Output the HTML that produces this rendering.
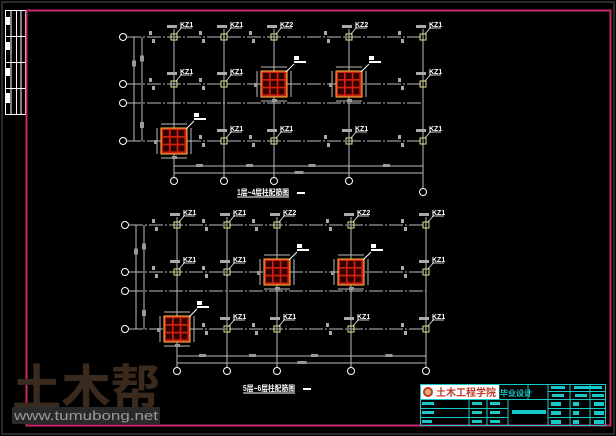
<!DOCTYPE html>
<html><head><meta charset="utf-8"><style>
html,body{margin:0;padding:0;background:#000;width:616px;height:436px;overflow:hidden}
svg{display:block}
text{font-family:"Liberation Sans","Noto Sans CJK SC",sans-serif}
</style></head><body>
<svg id="s" width="616" height="436" viewBox="0 0 616 436" xmlns="http://www.w3.org/2000/svg">
<rect x="0" y="0" width="616" height="436" fill="#000"/>
<rect x="2" y="2" width="612" height="432" fill="none" stroke="#555" stroke-width="1"/>
<!-- left margin table -->
<g stroke="#fff" stroke-width="1" fill="none">
<rect x="5.5" y="10.5" width="20" height="104"/>
<line x1="11" y1="10" x2="11" y2="114"/><line x1="16.5" y1="10" x2="16.5" y2="114"/><line x1="21" y1="10" x2="21" y2="114"/>
<line x1="5" y1="36.5" x2="26" y2="36.5"/><line x1="5" y1="62.5" x2="26" y2="62.5"/><line x1="5" y1="88.5" x2="26" y2="88.5"/>
</g>
<g fill="#fff"><rect x="6" y="17" width="4" height="8"/><rect x="6" y="42" width="4" height="8"/><rect x="6" y="68" width="4" height="8"/><rect x="6" y="93" width="4" height="10"/></g>
<!-- pink frame -->
<rect x="26.5" y="10.5" width="584" height="415" fill="none" stroke="#c8286e" stroke-width="2"/>
<g id="plans"></g>
<!-- watermark -->
<text x="12" y="406" font-size="50" font-weight="bold" fill="#3a2a1e" textLength="148" lengthAdjust="spacingAndGlyphs">土木帮</text>
<rect x="12" y="407" width="148" height="17" fill="#2a2a2a"/>
<text x="14" y="420" font-size="13" fill="#9a9a9a" textLength="144" lengthAdjust="spacingAndGlyphs" font-family="Liberation Mono">www.tumubong.net</text>
<!-- title block -->
<g stroke="#19c8c8" stroke-width="1" fill="none">
<rect x="420.5" y="384.5" width="185" height="41"/>
<line x1="499" y1="384" x2="499" y2="399"/>
<line x1="420" y1="399.5" x2="606" y2="399.5"/>
<line x1="528" y1="384" x2="528" y2="399"/>
<line x1="548" y1="384" x2="548" y2="426"/>
<line x1="590" y1="384" x2="590" y2="426"/>
<line x1="469" y1="399" x2="469" y2="426"/>
<line x1="487" y1="399" x2="487" y2="426"/>
<line x1="508" y1="399" x2="508" y2="426"/>
<line x1="420" y1="408.5" x2="508" y2="408.5"/><line x1="420" y1="417.5" x2="508" y2="417.5"/>
<line x1="570" y1="384" x2="570" y2="426"/>
<line x1="548" y1="391.5" x2="606" y2="391.5"/>
<line x1="548" y1="408.5" x2="606" y2="408.5"/><line x1="548" y1="417.5" x2="606" y2="417.5"/>
</g>
<rect x="421" y="385" width="78" height="14" fill="#fff"/>
<circle cx="428" cy="392" r="5" fill="#c0392b"/><circle cx="428" cy="392" r="3" fill="#e8b070"/>
<text x="436" y="396" font-size="10" fill="#c0392b" font-weight="bold">土木工程学院</text>
<text x="500" y="396" font-size="8" fill="#19c8c8" font-weight="bold">毕业设计</text>
<g fill="#19c8c8"><rect x="422" y="402" width="12" height="3"/><rect x="422" y="411" width="12" height="3"/><rect x="422" y="420" width="10" height="3"/>
<rect x="472" y="402" width="10" height="3"/><rect x="472" y="411" width="10" height="3"/><rect x="472" y="420" width="10" height="3"/>
<rect x="490" y="402" width="10" height="3"/><rect x="490" y="411" width="10" height="3"/><rect x="490" y="420" width="10" height="3"/>
<rect x="512" y="410" width="34" height="4"/><rect x="551" y="386" width="14" height="3"/><rect x="574" y="386" width="28" height="3"/>
<rect x="552" y="394" width="12" height="3"/><rect x="575" y="394" width="12" height="3"/><rect x="592" y="394" width="12" height="3"/>
<rect x="551" y="402" width="10" height="4"/><rect x="573" y="402" width="6" height="4"/><rect x="594" y="402" width="10" height="4"/>
<rect x="551" y="411" width="10" height="4"/><rect x="573" y="411" width="6" height="4"/><rect x="594" y="411" width="10" height="4"/>
<rect x="551" y="420" width="10" height="4"/><rect x="573" y="420" width="6" height="4"/><rect x="594" y="420" width="10" height="4"/></g>
</svg>
<script>
const NS="http://www.w3.org/2000/svg",G=document.getElementById("plans");
function el(t,a,txt){const e=document.createElementNS(NS,t);for(const k in a)e.setAttribute(k,a[k]);if(txt)e.textContent=txt;G.appendChild(e);return e;}
function plan(cols,rows,axX,circY,boxes,lbl,titleX,titleY,tlabel){
 const x0=cols[0],x1=cols[cols.length-1];
 // row lines
 rows.forEach(y=>{el("line",{x1:axX+4,y1:y,x2:x1,y2:y,stroke:"#bbb","stroke-width":1,"stroke-dasharray":"14 2 2 2"});
  el("circle",{cx:axX,cy:y,r:3.5,fill:"none",stroke:"#fff","stroke-width":1});});
 // col lines
 cols.forEach((x,i)=>{const cy=(i==cols.length-1&&circY[1])?circY[1]:circY[0];
  el("line",{x1:x,y1:rows[0]-8,x2:x,y2:cy-4,stroke:"#bbb","stroke-width":1});
  el("circle",{cx:x,cy:cy,r:3.5,fill:"none",stroke:"#fff","stroke-width":1});});
 // left dims
 el("line",{x1:axX+11,y1:rows[0],x2:axX+11,y2:rows[3],stroke:"#bbb"});
 el("line",{x1:axX+19,y1:rows[0],x2:axX+19,y2:rows[3],stroke:"#bbb"});
 el("rect",{x:axX+9,y:(rows[0]+rows[1])/2,width:4,height:6,fill:"#999"});
 el("rect",{x:axX+17,y:(rows[0]+rows[1])/2-5,width:4,height:6,fill:"#999"});
 el("rect",{x:axX+17,y:(rows[2]+rows[3])/2,width:4,height:6,fill:"#999"});
 // bottom dims
 const d1=circY[0]-15,d2=circY[0]-8;
 el("line",{x1:x0,y1:d1,x2:x1,y2:d1,stroke:"#bbb"});el("line",{x1:x0,y1:d2,x2:x1,y2:d2,stroke:"#bbb"});
 for(let i=0;i<cols.length-1;i++)el("rect",{x:(cols[i]+cols[i+1])/2-3,y:d1-2,width:7,height:3,fill:"#999"});
 el("rect",{x:(x0+x1)/2-4,y:d2-2,width:9,height:3,fill:"#999"});
 // columns
 const box=boxes.map(b=>b.join());
 cols.forEach((x,ci)=>[rows[0],rows[1],rows[3]].forEach((y,ri)=>{
  if(box.includes([ci,ri].join()))return;
  el("rect",{x:x-3,y:y-3,width:6,height:6,fill:"none",stroke:"#e6e68c","stroke-width":1});
  el("rect",{x:x-7,y:y-12,width:10,height:3,fill:"#aaa"});
  el("line",{x1:x+2,y1:y-3,x2:x+8,y2:y-10,stroke:"#fff","stroke-width":.7});
  el("text",{x:x+6,y:y-10,"font-size":7,fill:"#fff","font-weight":"bold"},lbl[ri][ci]);
  el("line",{x1:x+6,y1:y-9,x2:x+18,y2:y-9,stroke:"#fff","stroke-width":.8});
  el("rect",{x:x-25,y:y-6,width:3,height:4,fill:"#aaa"});el("rect",{x:x-22,y:y+2,width:3,height:4,fill:"#aaa"});
 }));
 boxes.forEach(([ci,ri])=>{const x=cols[ci],y=[rows[0],rows[1],rows[3]][ri];
  el("rect",{x:x-13,y:y-13,width:26,height:26,fill:"#d02010",stroke:"#ffc040","stroke-width":1});
  for(let a=0;a<3;a++)for(let b=0;b<3;b++)el("rect",{x:x-11+a*7.7,y:y-11+b*7.7,width:6,height:6,fill:"#300"});
  el("line",{x1:x-13,y1:y-17,x2:x+13,y2:y-17,stroke:"#bbb"});el("line",{x1:x-13,y1:y+17,x2:x+13,y2:y+17,stroke:"#bbb"});
  el("line",{x1:x-17,y1:y-13,x2:x-17,y2:y+13,stroke:"#bbb"});el("line",{x1:x+17,y1:y-13,x2:x+17,y2:y+13,stroke:"#bbb"});
  el("rect",{x:x-2,y:y+15,width:5,height:3,fill:"#999"});el("rect",{x:x-20,y:y-1,width:3,height:4,fill:"#999"});
  el("line",{x1:x+12,y1:y-12,x2:x+20,y2:y-20,stroke:"#fff",});
  el("rect",{x:x+20,y:y-28,width:5,height:4,fill:"#fff"});el("rect",{x:x+20,y:y-23,width:12,height:2,fill:"#fff"});
 });
 el("text",{x:titleX,y:titleY,"font-size":8,fill:"#fff","font-weight":"bold",textLength:52,lengthAdjust:"spacingAndGlyphs"},tlabel);
 el("line",{x1:titleX,y1:titleY+2,x2:titleX+52,y2:titleY+2,stroke:"#fff"});
 el("rect",{x:titleX+60,y:titleY-3,width:8,height:2,fill:"#fff"});
}
const L1=[["KZ1","KZ1","KZ2","KZ2","KZ1"],["KZ1","KZ1","KZ1","KZ1","KZ1"],["KZ1","KZ1","KZ1","KZ1","KZ1"]];
plan([174,224,274,349,423],[37,84,103,141],123,[181,192],[[0,2],[2,1],[3,1]],L1,237,195,"1层~4层柱配筋图");
plan([177,227,277,351,426],[225,272,291,329],125,[371],[[0,2],[2,1],[3,1]],L1,243,391,"5层~6层柱配筋图");
</script>
</body></html>
